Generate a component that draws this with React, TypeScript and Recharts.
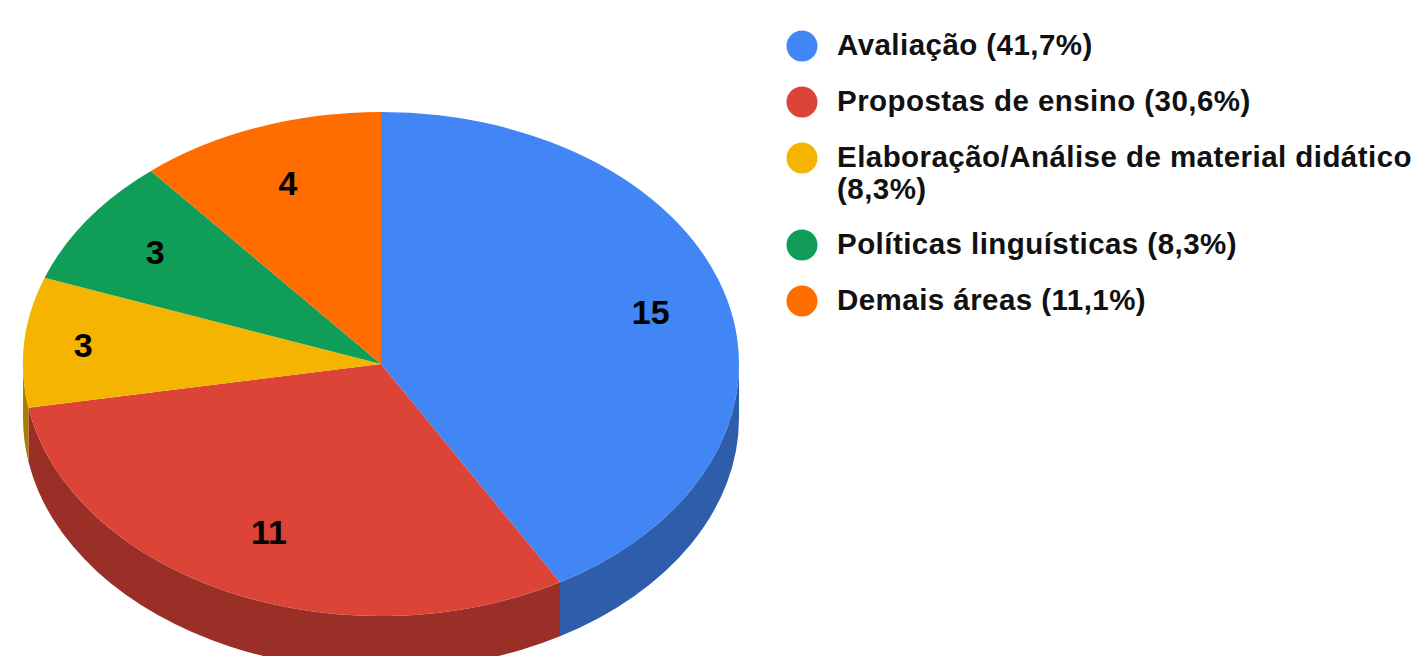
import React from 'react';
import { PieChart, Pie, Legend } from 'recharts';

const categories = [
  'Avaliação (41,7%)',
  'Propostas de ensino (30,6%)',
  'Elaboração/Análise de material didático (8,3%)',
  'Políticas linguísticas (8,3%)',
  'Demais áreas (11,1%)',
];
const counts = [15, 11, 3, 3, 4];
const topColors = ['#4285F4', '#DB4437', '#F4B400', '#0F9D58', '#FF6D01'];
const wallColors = ['#2E5DAB', '#992F26', '#AA7D00', '#0A6E3D', '#B24C00'];

// the picture is a tilted pie, so the circle gets squashed by this much
const SQUASH = 252 / 358;
const DEPTH = 54;
const CX = 381;
const CY = 364;
const RADIUS = 358;

const labelReach = [0.78, 0.74, 0.835, 0.77, 0.76];
const legendTops = [46, 102, 158, 245, 301];

const FONT = '"Liberation Sans", Arial, sans-serif';

const tableData = categories.map((name, i) => ({
  name,
  value: counts[i],
  fill: topColors[i],
  wall: wallColors[i],
  reach: labelReach[i],
}));

const point = (cx: number, cy: number, r: number, deg: number) => {
  const rad = (-deg * Math.PI) / 180;
  return [cx + r * Math.cos(rad), cy + r * SQUASH * Math.sin(rad)];
};

const TiltedSector = (props: any) => {
  const { cx, cy, outerRadius, startAngle, endAngle, fill, payload } = props;
  const ry = outerRadius * SQUASH;
  const [x1, y1] = point(cx, cy, outerRadius, startAngle);
  const [x2, y2] = point(cx, cy, outerRadius, endAngle);
  const large = Math.abs(endAngle - startAngle) > 180 ? 1 : 0;
  const top = `M${cx},${cy}L${x1},${y1}A${outerRadius},${ry} 0 ${large} 1 ${x2},${y2}Z`;

  // side wall only shows on the front half of the rim
  const wallStart = Math.min(startAngle, 0);
  const wallEnd = Math.max(endAngle, -180);
  let wall = null;
  if (wallStart > wallEnd) {
    const [wx1, wy1] = point(cx, cy, outerRadius, wallStart);
    const [wx2, wy2] = point(cx, cy, outerRadius, wallEnd);
    const d =
      `M${wx1},${wy1}A${outerRadius},${ry} 0 0 1 ${wx2},${wy2}` +
      `L${wx2},${wy2 + DEPTH}A${outerRadius},${ry} 0 0 0 ${wx1},${wy1 + DEPTH}Z`;
    wall = <path d={d} fill={payload?.wall ?? props.wall} stroke="none" />;
  }

  return (
    <g>
      {wall}
      <path d={top} fill={fill} stroke="none" />
    </g>
  );
};

const renderCount = (props: any) => {
  const { cx, cy, outerRadius, midAngle, value, payload } = props;
  const reach = payload?.reach ?? props.reach;
  const [x, y] = point(cx, cy, outerRadius * reach, midAngle);
  return (
    <text
      x={x}
      y={y - 1}
      textAnchor="middle"
      dominantBaseline="central"
      fontFamily={FONT}
      fontWeight="bold"
      fontSize={34}
      fill="#000"
    >
      {value}
    </text>
  );
};

const renderLegend = (props: any) => {
  const items = props.payload || [];
  return (
    <div style={{ position: 'relative', width: 1424, height: 656, fontFamily: FONT }}>
      {items.map((item: any, i: number) => (
        <div key={item.value}>
          <svg
            width={36}
            height={36}
            style={{ position: 'absolute', left: 784, top: legendTops[i] - 18 }}
          >
            <circle cx={18} cy={18} r={15.5} fill={item.color} />
          </svg>
          <div
            style={{
              position: 'absolute',
              left: 837,
              top: legendTops[i] - 17,
              width: 585,
              fontSize: 29.5,
              letterSpacing: 0.45,
              fontWeight: 'bold',
              lineHeight: '32px',
              color: '#111',
            }}
          >
            {item.value}
          </div>
        </div>
      ))}
    </div>
  );
};

export default function App() {
  return (
    <div style={{ position: 'absolute', left: 0, top: 0, width: 1424, height: 656, overflow: 'hidden', background: '#fff' }}>
      <PieChart width={1424} height={656} margin={{ top: 0, right: 0, bottom: 0, left: 0 }}>
        <Pie
          data={tableData}
          dataKey="value"
          nameKey="name"
          cx={CX}
          cy={CY}
          innerRadius={0}
          outerRadius={RADIUS}
          startAngle={90}
          endAngle={-270}
          paddingAngle={0}
          stroke="none"
          shape={TiltedSector}
          label={renderCount}
          labelLine={false}
          isAnimationActive={false}
        />
        <Legend
          content={renderLegend}
          itemSorter={null}
          wrapperStyle={{ position: 'absolute', left: 0, top: 0, width: 1424, height: 656 }}
        />
      </PieChart>
    </div>
  );
}
